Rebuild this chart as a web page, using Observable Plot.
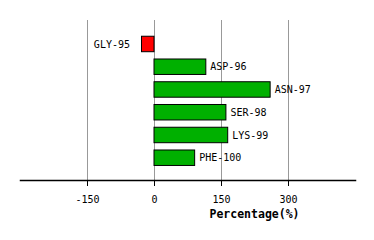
<!DOCTYPE html>
<html>
<head>
<meta charset="utf-8">
<script src="https://cdn.jsdelivr.net/npm/d3@7"></script>
<script src="https://cdn.jsdelivr.net/npm/@observablehq/plot@0.6"></script>
<style>
  html, body { margin: 0; padding: 0; background: #fff; }
</style>
</head>
<body>
<div id="chart"></div>
<script>
const residues = ["GLY-95", "ASP-96", "ASN-97", "SER-98", "LYS-99", "PHE-100"];
const values = [-28, 116, 260, 161, 165, 91];
const tickValues = [-150, 0, 150, 300];
const xDomain = [-300, 450];
const xLabel = "Percentage(%)";

const data = residues.map((name, i) => ({name, value: values[i]}));
const font = "DejaVu Sans Mono, monospace";

const plot = Plot.plot({
  width: 374,
  height: 240,
  marginLeft: 20,
  marginRight: 19,
  marginTop: 20,
  marginBottom: 60,
  style: {fontFamily: font, fontSize: "10px", background: "#fff", color: "#000"},
  x: {domain: xDomain},
  y: {domain: residues, range: [32.6, 169.1], paddingInner: 0.32, paddingOuter: 0.16, round: false, axis: null},
  marks: [
    Plot.ruleX(tickValues, {stroke: "#999", strokeWidth: 1, strokeOpacity: 1}),
    Plot.frame({anchor: "bottom", stroke: "#000", strokeWidth: 1.5}),
    Plot.axisX({ticks: tickValues, tickSize: 6, tickPadding: 9, tickFormat: d => String(d),
      stroke: "#000", strokeOpacity: 1, fill: "#000", fontSize: 10, fontFamily: font, label: null}),
    Plot.barX(data, {x1: 0, x2: "value", y: "name",
      fill: d => d.value < 0 ? "#ff0000" : "#00b000", stroke: "#000", strokeWidth: 1}),
    Plot.text(data.filter(d => d.value >= 0), {x: "value", y: "name", text: "name",
      textAnchor: "start", dx: 4, fill: "#000", fontSize: 10, fontFamily: font}),
    Plot.text(data.filter(d => d.value < 0), {x: "value", y: "name", text: "name",
      textAnchor: "end", dx: -12, fill: "#000", fontSize: 10, fontFamily: font}),
    Plot.text([xLabel], {frameAnchor: "bottom", dx: 66.5, dy: 37, text: d => d,
      fontWeight: "bold", fontSize: 11.5, fontFamily: font, fill: "#000"})
  ]
});
document.getElementById("chart").appendChild(plot);
</script>
</body>
</html>
